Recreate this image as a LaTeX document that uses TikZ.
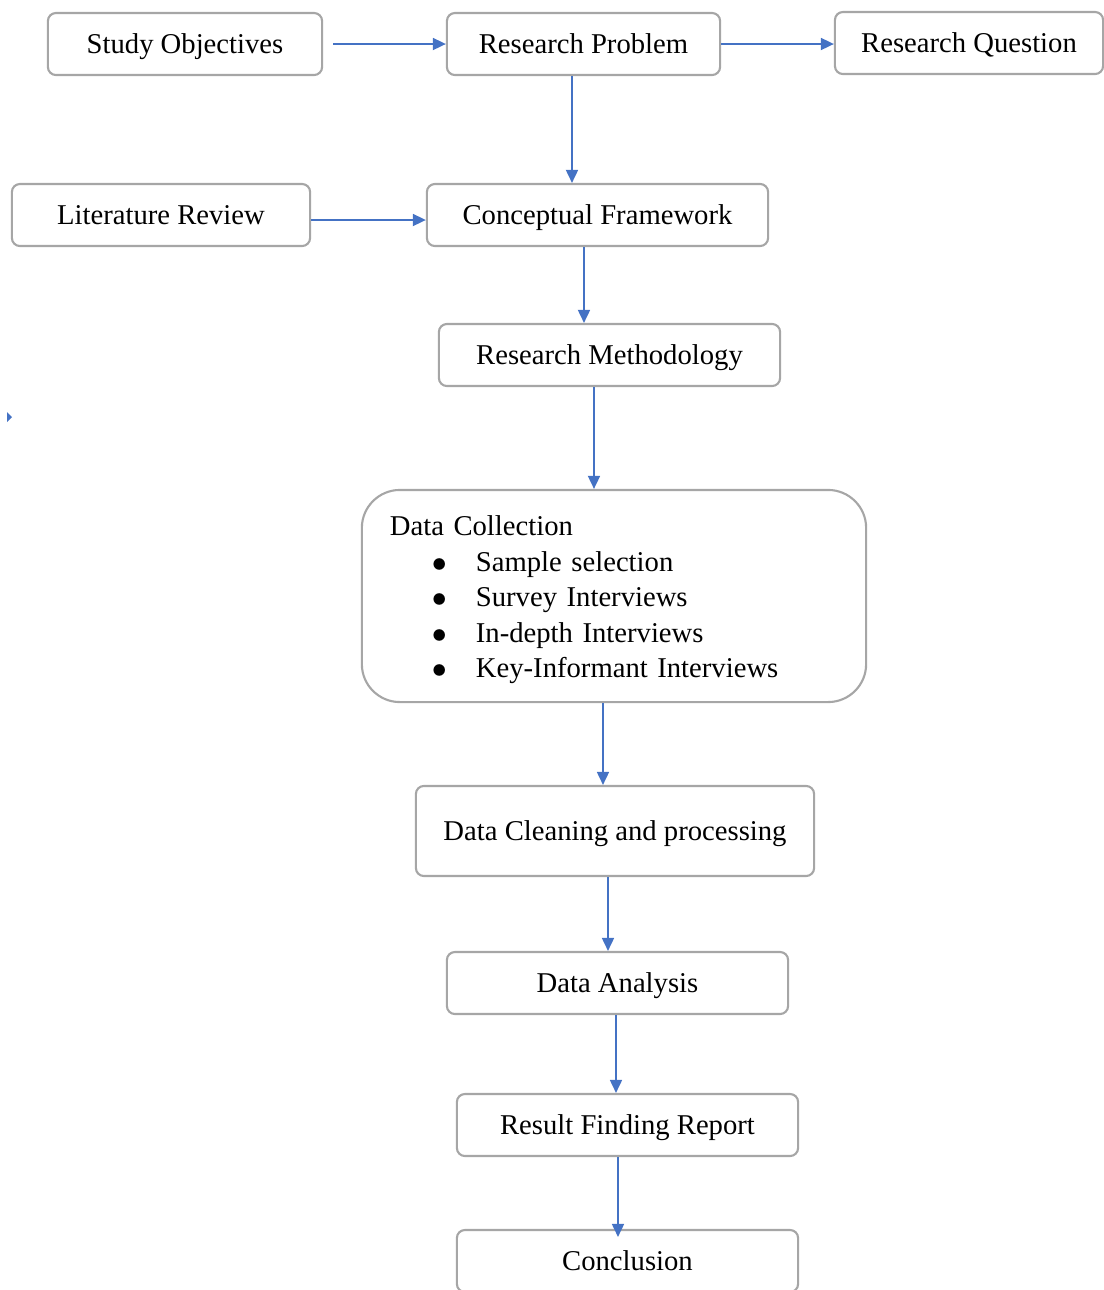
\documentclass[tikz,border=0pt]{standalone}
\usepackage{fontspec}
\setmainfont{Liberation Serif}
\usetikzlibrary{arrows.meta}
\definecolor{arrowblue}{HTML}{4472C4}
\definecolor{boxgray}{HTML}{A6A6A6}
\newcommand{\bulletitem}[1]{\hspace*{0.42cm}\makebox[0.44cm][l]{$\bullet$}#1}

\begin{document}
\begin{tikzpicture}%
[x=0.01cm,y=-0.01cm,font=\fontsize{8.15}{10.1}\selectfont,%
box/.style={draw=boxgray, line width=0.6pt, rounded corners=0.08cm, fill=white, inner sep=0pt,%
  minimum height=0.62cm, text height=0.19cm, text depth=0pt},%
arr/.style={draw=arrowblue, line width=0.5pt, -{Triangle[length=0.13cm,width=0.12cm]}}]
\useasboundingbox (0,0) rectangle (1104,1290);
% top row
\node[box, minimum width=2.74cm] (so) at (185,44) {Study Objectives};
\node[box, minimum width=2.73cm] (rp) at (583.5,44) {Research Problem};
\node[box, minimum width=2.68cm] (rq) at (969,43) {Research Question};
% second row
\node[box, minimum width=2.98cm] (lr) at (161,215) {Literature Review};
\node[box, minimum width=3.41cm] (cf) at (597.5,215) {Conceptual Framework};
% main column
\node[box, rounded corners=0.38cm, minimum width=5.04cm, minimum height=2.12cm,%
  text height={}, text depth={}, text width=4.48cm, inner xsep=0.28cm, align=left] (dc) at (614,596)
  {\rule{0pt}{0.28cm}Data Collection\\ \bulletitem{Sample selection}\\ \bulletitem{Survey Interviews}\\%
   \bulletitem{In-depth Interviews}\\ \bulletitem{Key-Informant Interviews}};
\node[box, minimum width=3.41cm] (rm) at (609.5,355) {Research Methodology};
\node[box, minimum width=3.98cm, minimum height=0.9cm] (dcp) at (615,831) {Data Cleaning and processing};
\node[box, minimum width=3.41cm] (da) at (617.5,983) {Data Analysis};
\node[box, minimum width=3.41cm] (rfr) at (627.5,1125) {Result Finding Report};
\node[box, minimum width=3.41cm] (con) at (627.5,1261) {Conclusion};
% stray tip
\fill[arrowblue] (7,412) -- (12,417) -- (7,422) -- cycle;
% connectors
\draw[arr] ([xshift=0.1cm]so.east) -- (rp.west);
\draw[arr] (rp.east) -- (rp.east -| rq.west);
\draw[arr] ([xshift=-0.115cm]rp.south) -- ([xshift=-0.115cm]rp.south |- cf.north);
\draw[arr] ([yshift=-0.05cm]lr.east) -- ([yshift=-0.05cm]lr.east -| cf.west);
\draw[arr] ([xshift=-0.135cm]cf.south) -- ([xshift=-0.135cm]cf.south |- rm.north);
\draw[arr] ([xshift=-0.155cm]rm.south) -- ([xshift=-0.155cm]rm.south |- dc.north);
\draw[arr] ([xshift=-0.11cm]dc.south) -- ([xshift=-0.11cm]dc.south |- dcp.north);
\draw[arr] ([xshift=-0.07cm]dcp.south) -- ([xshift=-0.07cm]dcp.south |- da.north);
\draw[arr] ([xshift=-0.015cm]da.south) -- ([xshift=-0.015cm]da.south |- rfr.north);
\draw[arr, shorten >=-0.08cm] ([xshift=-0.095cm]rfr.south) -- ([xshift=-0.095cm]rfr.south |- con.north);
\end{tikzpicture}
\end{document}
